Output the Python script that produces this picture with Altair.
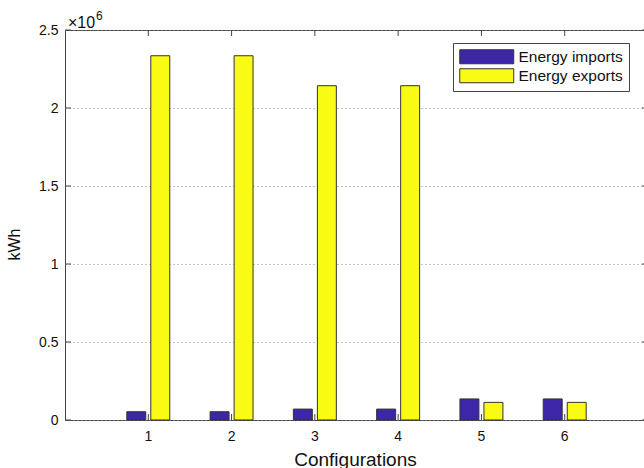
import altair as alt
import pandas as pd

configs = [1, 2, 3, 4, 5, 6]
imports_kwh = [53000, 53000, 70000, 70000, 135000, 135000]
exports_kwh = [2335000, 2335000, 2143000, 2143000, 113000, 113000]
series = ["Energy imports", "Energy exports"]
colors = ["#3E26A8", "#F9FB15"]
y_ticks = [0, 500000, 1000000, 1500000, 2000000, 2500000]

rows = []
for c, imp, exp in zip(configs, imports_kwh, exports_kwh):
    rows.append({"config": c, "series": series[0], "kwh": imp})
    rows.append({"config": c, "series": series[1], "kwh": exp})
df = pd.DataFrame(rows)
ticks_df = pd.DataFrame({"v": y_ticks})
cfg_df = pd.DataFrame({"config": configs})

W = 579
H = 390
FONT = "Liberation Sans"
AX = "#444444"

yscale = alt.Scale(domain=[0, 2500000], nice=False, zero=True)
xscale = alt.Scale(range=[0, 583], paddingInner=0.484, paddingOuter=0.742)

sym = "M-3.857,-1H3.857V1H-3.857Z"

bars = alt.Chart(df).mark_bar(stroke="#333333", strokeWidth=1).encode(
    x=alt.X("config:O", scale=xscale,
            axis=alt.Axis(title="Configurations", labelAngle=0, ticks=False, domain=False,
                          labelPadding=9, labelFontSize=14, labelFont=FONT, labelColor="#111",
                          titleFontSize=19, titleFont=FONT, titleFontWeight="normal", titleColor="#111",
                          titleX=290, titleY=45, titleBaseline="alphabetic", titleAlign="center")),
    xOffset=alt.XOffset("series:N", sort=series,
                        scale=alt.Scale(paddingInner=0.21, paddingOuter=0)),
    y=alt.Y("kwh:Q", scale=yscale,
            axis=alt.Axis(title="kWh", values=y_ticks, ticks=False, domain=False,
                          labelExpr="format(datum.value/1000000, '~g')",
                          labelPadding=7, labelFontSize=14, labelFont=FONT, labelColor="#111",
                          grid=True, gridDash=[1, 3], gridColor="#888888", gridWidth=1,
                          titleFontSize=16, titleFont=FONT, titleFontWeight="normal", titleColor="#111",
                          titleX=-51, titleY=214, titleBaseline="middle", titleAlign="center")),
    color=alt.Color("series:N", sort=series,
                    scale=alt.Scale(domain=series, range=colors),
                    legend=alt.Legend(title=None, orient="none", legendX=388, legendY=13,
                                      symbolType=sym, symbolSize=196, symbolOffset=20,
                                      symbolStrokeColor="#333333", symbolStrokeWidth=1,
                                      labelFontSize=15.5, labelFont=FONT, labelColor="#111",
                                      labelOffset=24, rowPadding=0,
                                      strokeColor=AX, fillColor="white", padding=6)),
)

left_ticks = alt.Chart(ticks_df).mark_rule(color=AX).encode(
    y=alt.Y("v:Q", scale=yscale), x=alt.value(0), x2=alt.value(6))
right_ticks = alt.Chart(ticks_df).mark_rule(color=AX).encode(
    y=alt.Y("v:Q", scale=yscale), x=alt.value(577), x2=alt.value(583))
bottom_ticks = alt.Chart(cfg_df).mark_rule(color=AX).encode(
    x=alt.X("config:O"), y=alt.value(H - 6), y2=alt.value(H))
top_ticks = alt.Chart(cfg_df).mark_rule(color=AX).encode(
    x=alt.X("config:O"), y=alt.value(0), y2=alt.value(6))

exp_text = alt.Chart(cfg_df.head(1)).mark_text(
    text="\u00d710", font=FONT, fontSize=16, align="left", baseline="middle", color="#111"
).encode(x=alt.value(3), y=alt.value(-7))
exp_sup = alt.Chart(cfg_df.head(1)).mark_text(
    text="6", font=FONT, fontSize=12, align="left", baseline="middle", color="#111"
).encode(x=alt.value(31), y=alt.value(-14))

chart = alt.layer(bars, left_ticks, right_ticks, bottom_ticks, top_ticks, exp_text, exp_sup).properties(
    width=W, height=H, autosize="none",
    padding={"left": 65, "top": 30, "right": 0, "bottom": 48},
    background="white",
).configure_view(stroke=AX, strokeWidth=1)

chart.save("out.html", embed_options={"renderer": "svg", "actions": False})
